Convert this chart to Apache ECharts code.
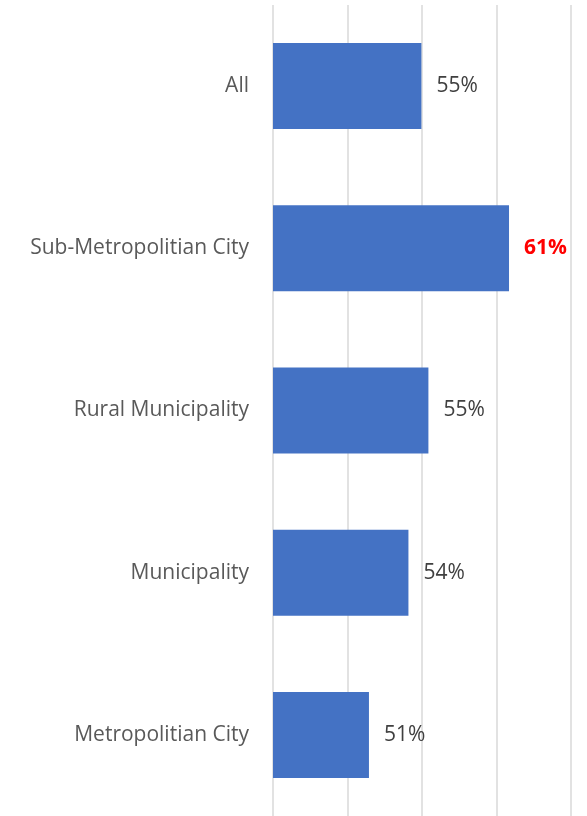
<!DOCTYPE html>
<html>
<head>
<meta charset="utf-8">
<script src="https://cdn.jsdelivr.net/npm/echarts@6/dist/echarts.min.js"></script>
<style>
  html, body { margin: 0; padding: 0; background: #ffffff; }
  #chart { width: 587px; height: 816px; }
</style>
</head>
<body>
<div id="chart"></div>
<script>
  // categories, top to bottom
  var categories = ['All', 'Sub-Metropolitian City', 'Rural Municipality', 'Municipality', 'Metropolitian City']
  // share, in percent
  var shares = [54.96, 60.84, 55.43, 54.09, 51.44]
  // the one label drawn in red
  var highlighted = 'Sub-Metropolitian City'
  // value axis ticks
  var axisMin = 45
  var axisMax = 65
  var axisStep = 5

  var chart = echarts.init(document.getElementById('chart'))

  var barData = shares.map(function (v, i) {
    var item = { value: v }
    if (categories[i] === highlighted) {
      item.label = { color: '#ff0000', fontWeight: 'bold' }
    }
    return item
  })

  var option = {
    backgroundColor: '#ffffff',
    animation: false,
    grid: {
      left: 273,
      right: 16,
      top: 5,
      bottom: -3
    },
    xAxis: {
      type: 'value',
      min: axisMin,
      max: axisMax,
      interval: axisStep,
      axisLine: { show: false },
      axisTick: { show: false },
      axisLabel: { show: false },
      splitLine: {
        show: true,
        lineStyle: { color: '#d9d9d9', width: 1.5 }
      }
    },
    yAxis: {
      type: 'category',
      inverse: true,
      data: categories,
      axisLine: { show: false },
      axisTick: { show: false },
      axisLabel: {
        margin: 24,
        color: '#595959',
        fontFamily: 'Open Sans',
        fontSize: 21
      }
    },
    series: [
      {
        type: 'bar',
        data: barData,
        barCategoryGap: '47%',
        itemStyle: { color: '#4472c4' },
        label: {
          show: true,
          position: 'right',
          distance: 15,
          color: '#404040',
          fontFamily: 'Open Sans',
          fontSize: 21,
          formatter: function (p) {
            return Math.round(p.value) + '%'
          }
        }
      }
    ]
  }

  chart.setOption(option)
</script>
</body>
</html>
